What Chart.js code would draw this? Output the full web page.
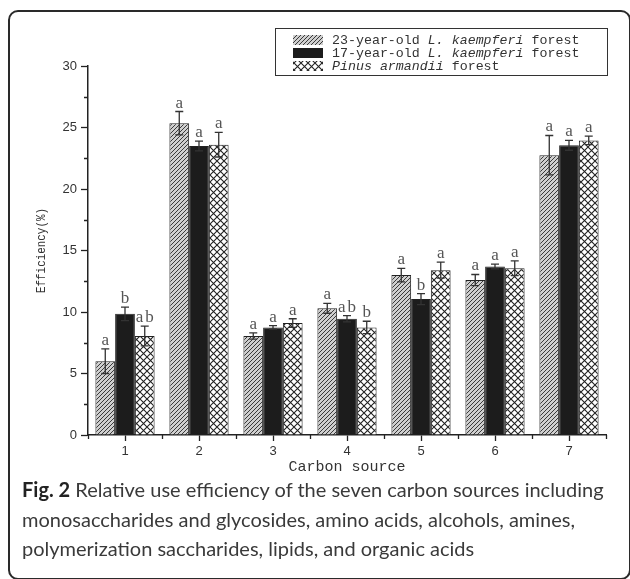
<!DOCTYPE html>
<html>
<head>
<meta charset="utf-8">
<script src="https://cdn.jsdelivr.net/npm/chart.js@4.4.1/dist/chart.umd.min.js"></script>
<style>
  body { margin: 0; background: #fff; width: 630px; height: 579px; overflow: hidden; position: relative; }
  .frame { position: absolute; left: 8px; top: 10px; width: 619px; height: 566px; border: 2px solid #2a2a2a; border-radius: 10px; }
  #myChart { position: absolute; left: 0; top: 0; }
  .caption { position: absolute; left: 22px; top: 475px; font-family: Lato, "Open Sans", sans-serif; font-size: 20px; line-height: 29.5px; color: #3a3a3a; white-space: nowrap; }
  .caption b { color: #222; }
</style>
</head>
<body>
<div class="frame"></div>
<canvas id="myChart" width="630" height="480"></canvas>
<div class="caption">
  <b>Fig. 2</b> Relative use efficiency of the seven carbon sources including<br>
  monosaccharides and glycosides, amino acids, alcohols, amines,<br>
  polymerization saccharides, lipids, and organic acids
</div>
<script>
// dados
const categorias = ['1', '2', '3', '4', '5', '6', '7'];
const larch23 = [6.0, 25.35, 8.05, 10.3, 13.0, 12.6, 22.75];
const larch23Err = [1.0, 0.95, 0.25, 0.4, 0.55, 0.45, 1.6];
const larch17 = [9.85, 23.5, 8.75, 9.45, 11.05, 13.7, 23.55];
const larch17Err = [0.55, 0.4, 0.15, 0.25, 0.45, 0.2, 0.4];
const pinus = [8.05, 23.6, 9.1, 8.75, 13.4, 13.55, 23.95];
const pinusErr = [0.8, 1.0, 0.35, 0.5, 0.65, 0.6, 0.35];
const sig23 = ['a', 'a', 'a', 'a', 'a', 'a', 'a'];
const sig17 = ['b', 'a', 'a', 'ab', 'b', 'a', 'a'];
const sigPinus = ['ab', 'a', 'a', 'b', 'a', 'a', 'a'];
const yTicks = [0, 5, 10, 15, 20, 25, 30];

// padroes das barras
function padraoHachura() {
    const c = document.createElement('canvas');
    c.width = 4; c.height = 4;
    const g = c.getContext('2d');
    g.fillStyle = '#cfcfcf';
    g.fillRect(0, 0, 4, 4);
    g.strokeStyle = '#3a3a3a';
    g.lineWidth = 1;
    g.beginPath();
    g.moveTo(-1, 5); g.lineTo(5, -1);
    g.moveTo(-1, 1); g.lineTo(1, -1);
    g.moveTo(3, 5); g.lineTo(5, 3);
    g.stroke();
    return g.createPattern(c, 'repeat');
}

function padraoXadrez() {
    const c = document.createElement('canvas');
    c.width = 7; c.height = 7;
    const g = c.getContext('2d');
    g.fillStyle = '#ffffff';
    g.fillRect(0, 0, 7, 7);
    g.strokeStyle = '#222';
    g.lineWidth = 1.1;
    g.beginPath();
    g.moveTo(-1, -1); g.lineTo(8, 8);
    g.moveTo(-1, 8); g.lineTo(8, -1);
    g.stroke();
    return g.createPattern(c, 'repeat');
}

const hachura = padraoHachura();
const xadrez = padraoXadrez();
const preto = '#1c1c1c';

const erros = [larch23Err, larch17Err, pinusErr];
const letras = [sig23, sig17, sigPinus];

// barras de erro, letras, ticks menores e legenda
const extras = {
    id: 'extras',
    afterDatasetsDraw(chart) {
        const ctx = chart.ctx;
        const y = chart.scales.y;
        const x = chart.scales.x;
        ctx.save();
        chart.data.datasets.forEach((ds, di) => {
            const meta = chart.getDatasetMeta(di);
            meta.data.forEach((bar, i) => {
                const v = ds.data[i];
                const e = erros[di][i];
                const yt = y.getPixelForValue(v + e);
                const yb = y.getPixelForValue(v - e);
                ctx.strokeStyle = '#333';
                ctx.lineWidth = 1.3;
                ctx.beginPath();
                ctx.moveTo(bar.x, yt); ctx.lineTo(bar.x, yb);
                ctx.moveTo(bar.x - 4, yt); ctx.lineTo(bar.x + 4, yt);
                ctx.moveTo(bar.x - 4, yb); ctx.lineTo(bar.x + 4, yb);
                ctx.stroke();
                ctx.fillStyle = '#555';
                ctx.font = '17px "Liberation Serif", serif';
                ctx.textAlign = 'center';
                ctx.textBaseline = 'alphabetic';
                ctx.letterSpacing = '2px';
                ctx.fillText(letras[di][i], bar.x + 1, yt - 4);
                ctx.letterSpacing = '0px';
            });
        });

        // ticks menores
        ctx.strokeStyle = '#222';
        ctx.lineWidth = 1.3;
        ctx.beginPath();
        for (let k = 0; k < yTicks.length - 1; k++) {
            const py = Math.round(y.getPixelForValue(yTicks[k] + 2.5)) + 0.5;
            ctx.moveTo(x.left - 4, py); ctx.lineTo(x.left, py);
        }
        const passo = (x.right - x.left) / categorias.length;
        for (let k = 0; k <= categorias.length; k++) {
            const px = Math.round(x.left + passo * k) + 0.5;
            ctx.moveTo(px, y.bottom); ctx.lineTo(px, y.bottom + 4);
        }
        ctx.stroke();

        // titulo do eixo y (fonte estreita)
        ctx.save();
        ctx.translate(42, (y.top + y.bottom) / 2);
        ctx.rotate(-Math.PI / 2);
        ctx.font = '13px "Liberation Mono", monospace';
        const tituloY = 'Efficiency(%)';
        const w = ctx.measureText(tituloY).width;
        ctx.scale(85 / w, 1);
        ctx.fillStyle = '#333';
        ctx.textAlign = 'center';
        ctx.textBaseline = 'middle';
        ctx.fillText(tituloY, 0, 0);
        ctx.restore();

        // legenda
        const lx = 275, ly = 28;
        ctx.fillStyle = '#fff';
        ctx.fillRect(lx, ly, 332, 47);
        ctx.strokeStyle = '#333';
        ctx.lineWidth = 1;
        ctx.strokeRect(lx + 0.5, ly + 0.5, 332, 47);
        const itens = [
            { fill: hachura, parts: [['23-year-old ', false], ['L. kaempferi', true], [' forest', false]] },
            { fill: preto, parts: [['17-year-old ', false], ['L. kaempferi', true], [' forest', false]] },
            { fill: xadrez, parts: [['Pinus armandii', true], [' forest', false]] }
        ];
        itens.forEach((it, k) => {
            const cy = 40 + k * 13;
            ctx.fillStyle = it.fill;
            ctx.fillRect(293, cy - 5, 30, 10);
            let tx = 332;
            ctx.fillStyle = '#333';
            ctx.textAlign = 'left';
            ctx.textBaseline = 'middle';
            it.parts.forEach(p => {
                ctx.font = (p[1] ? 'italic ' : '') + '13.3px "Liberation Mono", monospace';
                ctx.fillText(p[0], tx, cy);
                tx += ctx.measureText(p[0]).width;
            });
        });
        ctx.restore();
    }
};

const ctx = document.getElementById('myChart').getContext('2d');

new Chart(ctx, {
    type: 'bar',
    data: {
        labels: categorias,
        datasets: [
            { label: '23-year-old L. kaempferi forest', data: larch23, backgroundColor: hachura, borderColor: '#222', borderWidth: 1 },
            { label: '17-year-old L. kaempferi forest', data: larch17, backgroundColor: preto, borderColor: '#222', borderWidth: 1 },
            { label: 'Pinus armandii forest', data: pinus, backgroundColor: xadrez, borderColor: '#222', borderWidth: 1 }
        ]
    },
    options: {
        responsive: false,
        animation: false,
        layout: { padding: { left: 0, top: 66, right: 24, bottom: 0 } },
        datasets: { bar: { barPercentage: 1, categoryPercentage: 0.8 } },
        plugins: {
            legend: { display: false },
            tooltip: { enabled: false }
        },
        scales: {
            x: {
                afterFit(s) { s.height = 45; },
                grid: { offset: false, drawOnChartArea: false, drawTicks: true, tickLength: 6, color: '#222', tickWidth: 1.3 },
                border: { color: '#222', width: 1.5 },
                ticks: { color: '#333', font: { family: '"Liberation Sans", Arial', size: 13 }, padding: 3 },
                title: {
                    display: true,
                    text: 'Carbon source',
                    color: '#333',
                    font: { family: '"Liberation Mono", monospace', size: 15 },
                    padding: { top: 0, bottom: 4 }
                }
            },
            y: {
                min: 0,
                max: 30,
                afterFit(s) { s.width = 88; },
                afterBuildTicks(s) { s.ticks = yTicks.map(v => ({ value: v })); },
                grid: { drawOnChartArea: false, drawTicks: true, tickLength: 7, color: '#222', tickWidth: 1.3 },
                border: { color: '#222', width: 1.5 },
                ticks: { color: '#333', font: { family: '"Liberation Sans", Arial', size: 13 }, padding: 4 }
            }
        }
    },
    plugins: [extras]
});
</script>
</body>
</html>
